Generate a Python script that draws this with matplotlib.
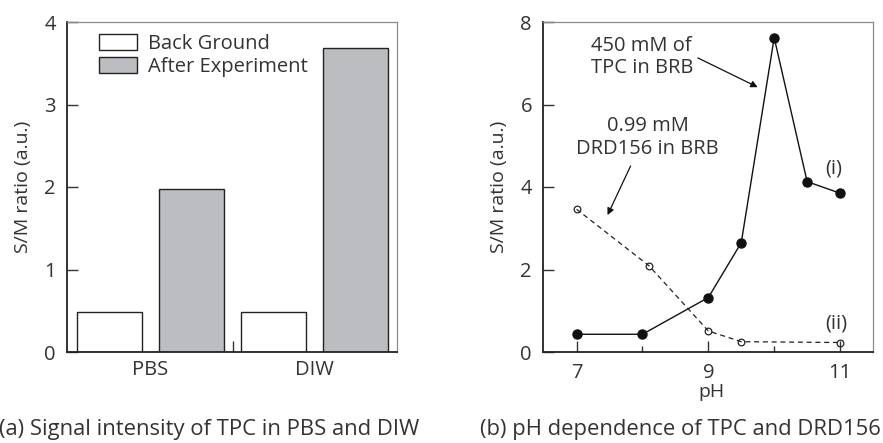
import matplotlib
matplotlib.use("Agg")
import matplotlib.pyplot as plt
from matplotlib.ticker import MultipleLocator

plt.rcParams['font.family'] = ['Open Sans', 'DejaVu Sans']
TXT = '#333333'
FST = 14.5     # tick labels
FS = 14        # axis labels
FSA = 14.5     # annotations / legend
FSC = 15.8     # captions

# ---- data ----
categories = ['PBS', 'DIW']
background = [0.48, 0.48]
after_exp = [1.97, 3.68]

ph_tpc = [7, 8, 9, 9.5, 10, 10.5, 11]
sm_tpc = [0.43, 0.43, 1.32, 2.65, 7.62, 4.13, 3.85]
ph_drd = [7, 8.1, 9, 9.5, 11]
sm_drd = [3.46, 2.09, 0.51, 0.25, 0.23]

fig = plt.figure(figsize=(8.83, 4.43), dpi=100)
W, H = 883, 443

def axes_px(x0, y0, x1, y1):
    return fig.add_axes([x0 / W, 1 - y1 / H, (x1 - x0) / W, (y1 - y0) / H])

def style(ax):
    for s in ['left', 'bottom']:
        ax.spines[s].set_color('#222222')
        ax.spines[s].set_linewidth(1.3)
    for s in ['top', 'right']:
        ax.spines[s].set_color('#8a8a8a')
        ax.spines[s].set_linewidth(0.9)
    ax.tick_params(direction='in', length=8, width=1.0, color='#333333',
                   labelsize=FST, labelcolor=TXT, pad=8)
    ax.tick_params(which='minor', direction='in', length=4, width=1.0, color='#333333')

# ---- panel (a) ----
ax1 = axes_px(67, 22, 397, 352)
x = list(range(len(categories)))
bw = 0.40
ax1.bar([i - 0.25 for i in x], background, width=bw, color='white',
        edgecolor='#222222', linewidth=1.0, label='Back Ground')
ax1.bar([i + 0.25 for i in x], after_exp, width=bw, color='#bcbdc0',
        edgecolor='#222222', linewidth=1.0, label='After Experiment')
ax1.set_xlim(-0.51, 1.503)
ax1.set_ylim(0, 4)
ax1.set_yticks([0, 1, 2, 3, 4])
ax1.set_xticks([0.5])
ax1.set_xticklabels([''])
style(ax1)
for i, c in enumerate(categories):
    ax1.text(i, -0.215, c, ha='center', va='center', fontsize=FST, color=TXT)
ax1.set_ylabel('S/M ratio (a.u.)', fontsize=FS, color=TXT)
ax1.yaxis.set_label_coords(-0.105, 0.5)
leg = ax1.legend(loc='upper left', frameon=False, fontsize=FSA,
                 handlelength=1.9, handleheight=0.85, handletextpad=0.55,
                 labelspacing=0.15, borderaxespad=0.2, bbox_to_anchor=(0.06, 1.0))
for t in leg.get_texts():
    t.set_color(TXT)
fig.text(209 / W, 1 - 430 / H, '(a) Signal intensity of TPC in PBS and DIW',
         ha='center', va='center', fontsize=FSC, color=TXT)

# ---- panel (b) ----
ax2 = axes_px(543, 22, 873, 352)
ax2.plot(ph_tpc, sm_tpc, '-o', color='#111111', lw=1.0, markersize=6.5)
ax2.plot(ph_drd, sm_drd, '--o', color='#222222', lw=0.9, markersize=4.8,
         markerfacecolor='none', markeredgewidth=0.9, dashes=(4, 3))
ax2.set_xlim(6.49, 11.5)
ax2.set_ylim(0, 8)
ax2.set_xticks([7, 9, 11])
ax2.xaxis.set_minor_locator(MultipleLocator(1))
ax2.set_yticks([0, 2, 4, 6, 8])
style(ax2)
ax2.set_xlabel('pH', fontsize=FS, color=TXT, va='center')
ax2.xaxis.set_label_coords(0.51, -0.12)
ax2.set_ylabel('S/M ratio (a.u.)', fontsize=FS, color=TXT)
ax2.yaxis.set_label_coords(-0.105, 0.5)

arrow = dict(arrowstyle='-|>', color='#111111', lw=0.9, mutation_scale=10,
             shrinkA=0, shrinkB=0)
ax2.text(7.99, 7.15, '450 mM of\nTPC in BRB', ha='center', va='center',
         fontsize=FSA, color=TXT, linespacing=1.15)
ax2.annotate('', xy=(9.75, 6.42), xytext=(8.84, 7.13), arrowprops=arrow)
ax2.text(8.08, 5.2, '0.99 mM\nDRD156 in BRB', ha='center', va='center',
         fontsize=FSA, color=TXT, linespacing=1.15)
ax2.annotate('', xy=(7.47, 3.32), xytext=(7.82, 4.51), arrowprops=arrow)
ax2.text(10.91, 4.46, '(i)', ha='center', va='center', fontsize=FSA, color=TXT)
ax2.text(10.94, 0.70, '(ii)', ha='center', va='center', fontsize=FSA, color=TXT)
fig.text(680 / W, 1 - 430 / H, '(b) pH dependence of TPC and DRD156',
         ha='center', va='center', fontsize=FSC, color=TXT)

fig.savefig('out.png', dpi=100)
